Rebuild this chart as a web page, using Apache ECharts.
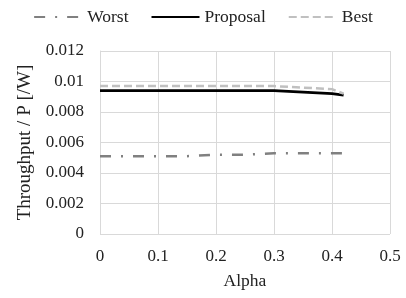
<!DOCTYPE html>
<html>
<head>
<meta charset="utf-8">
<script src="https://cdn.jsdelivr.net/npm/echarts@6/dist/echarts.min.js"></script>
<style>
html, body { margin: 0; padding: 0; background: #fff; }
#chart { width: 406px; height: 298px; }
</style>
</head>
<body>
<div id="chart"></div>
<script>
var alpha = [0, 0.05, 0.1, 0.15, 0.2, 0.25, 0.3, 0.35, 0.4, 0.42];
var worst = [0.0051, 0.0051, 0.0051, 0.0051, 0.0052, 0.0052, 0.0053, 0.0053, 0.0053, 0.0053];
var proposal = [0.0094, 0.0094, 0.0094, 0.0094, 0.0094, 0.0094, 0.0094, 0.0093, 0.0092, 0.0091];
var best = [0.0097, 0.0097, 0.0097, 0.0097, 0.0097, 0.0097, 0.0097, 0.0096, 0.0095, 0.0092];

function pairs(ys) {
    return alpha.map(function (a, i) { return [a, ys[i]]; });
}

var chart = echarts.init(document.getElementById('chart'));
var font = 'Liberation Serif';

option = {
    animation: false,
    textStyle: { fontFamily: font, color: '#222' },
    legend: {
        top: 3,
        left: 'center',
        itemWidth: 48,
        itemHeight: 12,
        itemGap: 22,
        itemStyle: { opacity: 0 },
        textStyle: { fontFamily: font, fontSize: 17.5, color: '#222' },
        data: ['Worst', 'Proposal', 'Best']
    },
    grid: { left: 100, right: 16, top: 51, bottom: 64 },
    xAxis: {
        type: 'value',
        min: 0,
        max: 0.5,
        interval: 0.1,
        name: 'Alpha',
        nameLocation: 'middle',
        nameGap: 38,
        nameTextStyle: { fontFamily: font, fontSize: 17.5, color: '#222', verticalAlign: 'top' },
        axisLine: { show: false },
        axisTick: { show: false },
        axisLabel: { fontFamily: font, fontSize: 17, color: '#222', margin: 14 },
        splitLine: { show: true, lineStyle: { color: '#d9d9d9', width: 1 } }
    },
    yAxis: {
        type: 'value',
        min: 0,
        max: 0.012,
        interval: 0.002,
        name: 'Throughput / P [/W]',
        nameLocation: 'middle',
        nameGap: 63,
        nameTextStyle: { fontFamily: font, fontSize: 19, color: '#222' },
        axisLine: { show: true, lineStyle: { color: '#d9d9d9', width: 1 } },
        axisTick: { show: false },
        axisLabel: { fontFamily: font, fontSize: 17, color: '#222', margin: 16 },
        splitLine: { show: true, lineStyle: { color: '#d9d9d9', width: 1 } }
    },
    series: [{
            name: 'Worst',
            type: 'line',
            symbol: 'none',
            lineStyle: { color: '#808080', width: 2.5, type: [11, 10, 2, 10] },
            itemStyle: { color: '#808080' },
            data: pairs(worst)
        },
        {
            name: 'Proposal',
            type: 'line',
            symbol: 'none',
            lineStyle: { color: '#000', width: 2.8 },
            itemStyle: { color: '#000' },
            data: pairs(proposal)
        },
        {
            name: 'Best',
            type: 'line',
            symbol: 'none',
            lineStyle: { color: '#c0c0c0', width: 2.5, type: [8, 4] },
            itemStyle: { color: '#c0c0c0' },
            data: pairs(best)
        }
    ]
};
chart.setOption(option);
</script>
</body>
</html>
